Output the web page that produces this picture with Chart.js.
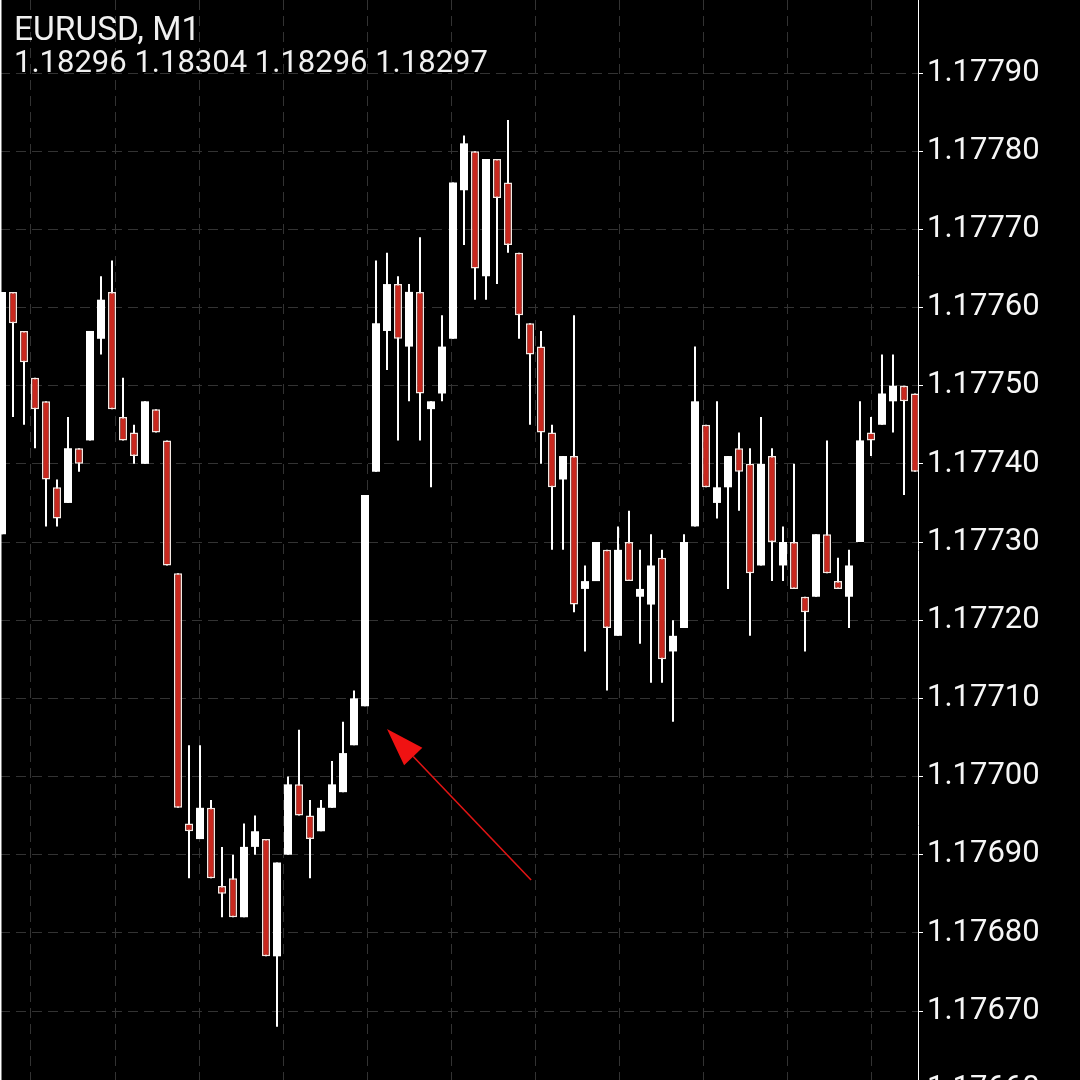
<!DOCTYPE html>
<html lang="en">
<head>
    <meta charset="UTF-8">
    <title>EURUSD, M1</title>
    <script src="https://cdn.jsdelivr.net/npm/chart.js"></script>
    <style>
        html, body {
            margin: 0;
            padding: 0;
            background-color: #000;
            overflow: hidden;
        }

        #candles {
            display: block;
            background-color: #000;
        }
    </style>
</head>
<body>
    <canvas id="candles" width="1080" height="1100"></canvas>

    <script>
        const symbolTitle = 'EURUSD, M1';
        const lastQuote = '1.18296 1.18304 1.18296 1.18297';

        // one-minute bars, oldest on the left
        const openPrices = [
            1.17731, 1.17762, 1.17757, 1.17751, 1.17748, 1.17737, 1.17735, 1.17742, 1.17743, 1.17756,
            1.17762, 1.17746, 1.17744, 1.17740, 1.17747, 1.17743, 1.17726, 1.17694, 1.17692, 1.17696,
            1.17686, 1.17687, 1.17682, 1.17691, 1.17692, 1.17677, 1.17690, 1.17699, 1.17695, 1.17693,
            1.17696, 1.17698, 1.17704, 1.17709, 1.17739, 1.17757, 1.17763, 1.17755, 1.17762, 1.17747,
            1.17749, 1.17756, 1.17775, 1.17780, 1.17764, 1.17779, 1.17776, 1.17767, 1.17758, 1.17755,
            1.17744, 1.17738, 1.17741, 1.17724, 1.17725, 1.17729, 1.17718, 1.17730, 1.17723, 1.17722,
            1.17728, 1.17716, 1.17719, 1.17732, 1.17745, 1.17735, 1.17737, 1.17742, 1.17740, 1.17727,
            1.17741, 1.17727, 1.17730, 1.17723, 1.17723, 1.17731, 1.17725, 1.17723, 1.17730, 1.17744,
            1.17745, 1.17748, 1.17750, 1.17749
        ];
        const highPrices = [
            1.17762, 1.17762, 1.17757, 1.17751, 1.17748, 1.17738, 1.17746, 1.17742, 1.17757, 1.17764,
            1.17766, 1.17751, 1.17745, 1.17748, 1.17747, 1.17743, 1.17726, 1.17704, 1.17704, 1.17697,
            1.17691, 1.17690, 1.17694, 1.17695, 1.17692, 1.17689, 1.17700, 1.17706, 1.17697, 1.17697,
            1.17702, 1.17707, 1.17711, 1.17736, 1.17766, 1.17767, 1.17764, 1.17763, 1.17769, 1.17748,
            1.17759, 1.17776, 1.17782, 1.17780, 1.17779, 1.17779, 1.17784, 1.17767, 1.17758, 1.17757,
            1.17745, 1.17741, 1.17759, 1.17727, 1.17730, 1.17729, 1.17732, 1.17734, 1.17729, 1.17731,
            1.17729, 1.17720, 1.17731, 1.17755, 1.17745, 1.17748, 1.17741, 1.17744, 1.17742, 1.17746,
            1.17742, 1.17732, 1.17740, 1.17723, 1.17731, 1.17743, 1.17728, 1.17729, 1.17748, 1.17746,
            1.17754, 1.17754, 1.17750, 1.17749
        ];
        const lowPrices = [
            1.17731, 1.17746, 1.17745, 1.17742, 1.17732, 1.17732, 1.17735, 1.17739, 1.17743, 1.17754,
            1.17747, 1.17743, 1.17740, 1.17740, 1.17744, 1.17727, 1.17696, 1.17687, 1.17692, 1.17687,
            1.17682, 1.17682, 1.17682, 1.17690, 1.17677, 1.17668, 1.17690, 1.17695, 1.17687, 1.17693,
            1.17696, 1.17698, 1.17704, 1.17709, 1.17739, 1.17752, 1.17743, 1.17748, 1.17743, 1.17737,
            1.17748, 1.17756, 1.17768, 1.17761, 1.17761, 1.17763, 1.17767, 1.17756, 1.17745, 1.17740,
            1.17729, 1.17729, 1.17721, 1.17716, 1.17725, 1.17711, 1.17718, 1.17725, 1.17717, 1.17712,
            1.17712, 1.17707, 1.17719, 1.17732, 1.17737, 1.17733, 1.17724, 1.17734, 1.17718, 1.17727,
            1.17725, 1.17725, 1.17724, 1.17716, 1.17723, 1.17726, 1.17724, 1.17719, 1.17730, 1.17741,
            1.17745, 1.17744, 1.17736, 1.17739
        ];
        const closePrices = [
            1.17762, 1.17758, 1.17753, 1.17747, 1.17738, 1.17733, 1.17742, 1.17740, 1.17757, 1.17761,
            1.17747, 1.17743, 1.17741, 1.17748, 1.17744, 1.17727, 1.17696, 1.17693, 1.17696, 1.17687,
            1.17685, 1.17682, 1.17691, 1.17693, 1.17677, 1.17689, 1.17699, 1.17695, 1.17692, 1.17696,
            1.17699, 1.17703, 1.17710, 1.17736, 1.17758, 1.17763, 1.17756, 1.17762, 1.17749, 1.17748,
            1.17755, 1.17776, 1.17781, 1.17765, 1.17779, 1.17774, 1.17768, 1.17759, 1.17754, 1.17744,
            1.17737, 1.17741, 1.17722, 1.17725, 1.17730, 1.17719, 1.17729, 1.17725, 1.17724, 1.17727,
            1.17715, 1.17718, 1.17730, 1.17748, 1.17737, 1.17737, 1.17741, 1.17739, 1.17726, 1.17740,
            1.17730, 1.17730, 1.17724, 1.17721, 1.17731, 1.17726, 1.17724, 1.17727, 1.17743, 1.17743,
            1.17749, 1.17750, 1.17748, 1.17739
        ];

        const priceTicks = [
            1.17660, 1.17670, 1.17680, 1.17690, 1.17700, 1.17710, 1.17720,
            1.17730, 1.17740, 1.17750, 1.17760, 1.17770, 1.17780, 1.17790
        ];

        // hand-drawn arrow: [bar index, price]
        const arrowTail = [48.1, 1.1768676];
        const arrowTip = [35.0, 1.1770608];

        const BULL = '#ffffff';
        const BEAR = '#c9281e';
        const GRID = '#333333';

        const barIndex = openPrices.map((_, i) => i);
        const isBull = barIndex.map(i => closePrices[i] >= openPrices[i]);

        const wicks = barIndex.map(i => ({ x: i, y: [lowPrices[i], highPrices[i]] }));
        const bodies = barIndex.map(i => ({ x: i, y: [openPrices[i], closePrices[i]] }));

        // 11px per bar, plot area 918px wide, first bar centred at x=2
        const pxPerBar = 11;
        const xMin = -2 / pxPerBar;
        const xMax = xMin + 918 / pxPerBar;
        const verticalGrid = Array.from({ length: 11 }, (_, k) => (29 + 84 * k) / pxPerBar);

        // 7.817px per point, 1.17790 sits about 72px below the top
        const ptPx = 7.817;
        const yMax = 1.17790 + (73 / ptPx) * 0.00001;
        const yMin = yMax - (1100 / ptPx) * 0.00001;

        const overlayPlugin = {
            id: 'overlay',
            afterDatasetsDraw(chart) {
                const { ctx, scales: { x, y } } = chart;
                const x1 = x.getPixelForValue(arrowTail[0]);
                const y1 = y.getPixelForValue(arrowTail[1]);
                const x2 = x.getPixelForValue(arrowTip[0]);
                const y2 = y.getPixelForValue(arrowTip[1]);
                const ang = Math.atan2(y2 - y1, x2 - x1);
                const headLen = 38;
                const headHalf = 12.6;
                const bx = x2 - headLen * Math.cos(ang);
                const by = y2 - headLen * Math.sin(ang);

                ctx.save();
                ctx.strokeStyle = '#e01414';
                ctx.fillStyle = '#f01212';
                ctx.lineWidth = 1.6;
                ctx.beginPath();
                ctx.moveTo(x1, y1);
                ctx.lineTo(bx, by);
                ctx.stroke();
                ctx.beginPath();
                ctx.moveTo(x2, y2);
                ctx.lineTo(bx + headHalf * Math.sin(ang), by - headHalf * Math.cos(ang));
                ctx.lineTo(bx - headHalf * Math.sin(ang), by + headHalf * Math.cos(ang));
                ctx.closePath();
                ctx.fill();
                ctx.restore();
            },
            afterDraw(chart) {
                const { ctx } = chart;
                ctx.save();
                ctx.fillStyle = '#ffffff';
                ctx.fillRect(0, 0, 1.5, chart.height);
                ctx.fillStyle = '#f0f0f0';
                ctx.textBaseline = 'alphabetic';
                ctx.textAlign = 'left';
                ctx.font = '33.5px Roboto';
                ctx.fillText(symbolTitle, 14, 40);
                ctx.font = '31px Roboto';
                ctx.fillText(lastQuote, 14, 72);
                ctx.restore();
            }
        };

        const ctx = document.getElementById('candles').getContext('2d');

        new Chart(ctx, {
            type: 'bar',
            data: {
                datasets: [{
                    label: 'wick',
                    data: wicks,
                    backgroundColor: BULL,
                    borderWidth: 0,
                    maxBarThickness: 2,
                    order: 2
                }, {
                    label: 'body',
                    data: bodies,
                    backgroundColor: isBull.map(b => b ? BULL : BEAR),
                    borderColor: '#f4e9e4',
                    borderWidth: isBull.map(b => b ? 0 : 1.5),
                    borderSkipped: false,
                    maxBarThickness: 8,
                    order: 1
                }]
            },
            options: {
                responsive: false,
                maintainAspectRatio: false,
                animation: false,
                events: [],
                layout: { padding: 0 },
                datasets: {
                    bar: {
                        grouped: false,
                        barPercentage: 1,
                        categoryPercentage: 1,
                        inflateAmount: 0
                    }
                },
                plugins: {
                    legend: { display: false },
                    title: { display: false },
                    tooltip: { enabled: false }
                },
                scales: {
                    x: {
                        type: 'linear',
                        min: xMin,
                        max: xMax,
                        offset: false,
                        grid: { color: GRID, lineWidth: 1, drawTicks: false, offset: false },
                        border: { display: false, dash: [10, 6] },
                        ticks: { display: false },
                        afterBuildTicks: s => { s.ticks = verticalGrid.map(v => ({ value: v })); },
                        afterFit: s => { s.height = 0; s.paddingLeft = 0; s.paddingRight = 0; }
                    },
                    y: {
                        type: 'linear',
                        position: 'right',
                        min: yMin,
                        max: yMax,
                        beginAtZero: false,
                        grid: {
                            color: GRID,
                            lineWidth: 1,
                            tickLength: 5,
                            tickColor: '#ffffff',
                            tickWidth: 1
                        },
                        border: { display: true, color: '#ffffff', width: 1, dash: [10, 6] },
                        ticks: {
                            color: '#f6f6f6',
                            padding: 4,
                            font: { family: 'Roboto', size: 31 },
                            callback: v => v.toFixed(5)
                        },
                        afterBuildTicks: s => { s.ticks = priceTicks.map(v => ({ value: v })); },
                        afterFit: s => { s.width = 162; s.paddingTop = 0; s.paddingBottom = 0; }
                    }
                }
            },
            plugins: [overlayPlugin]
        });
    </script>
</body>
</html>
